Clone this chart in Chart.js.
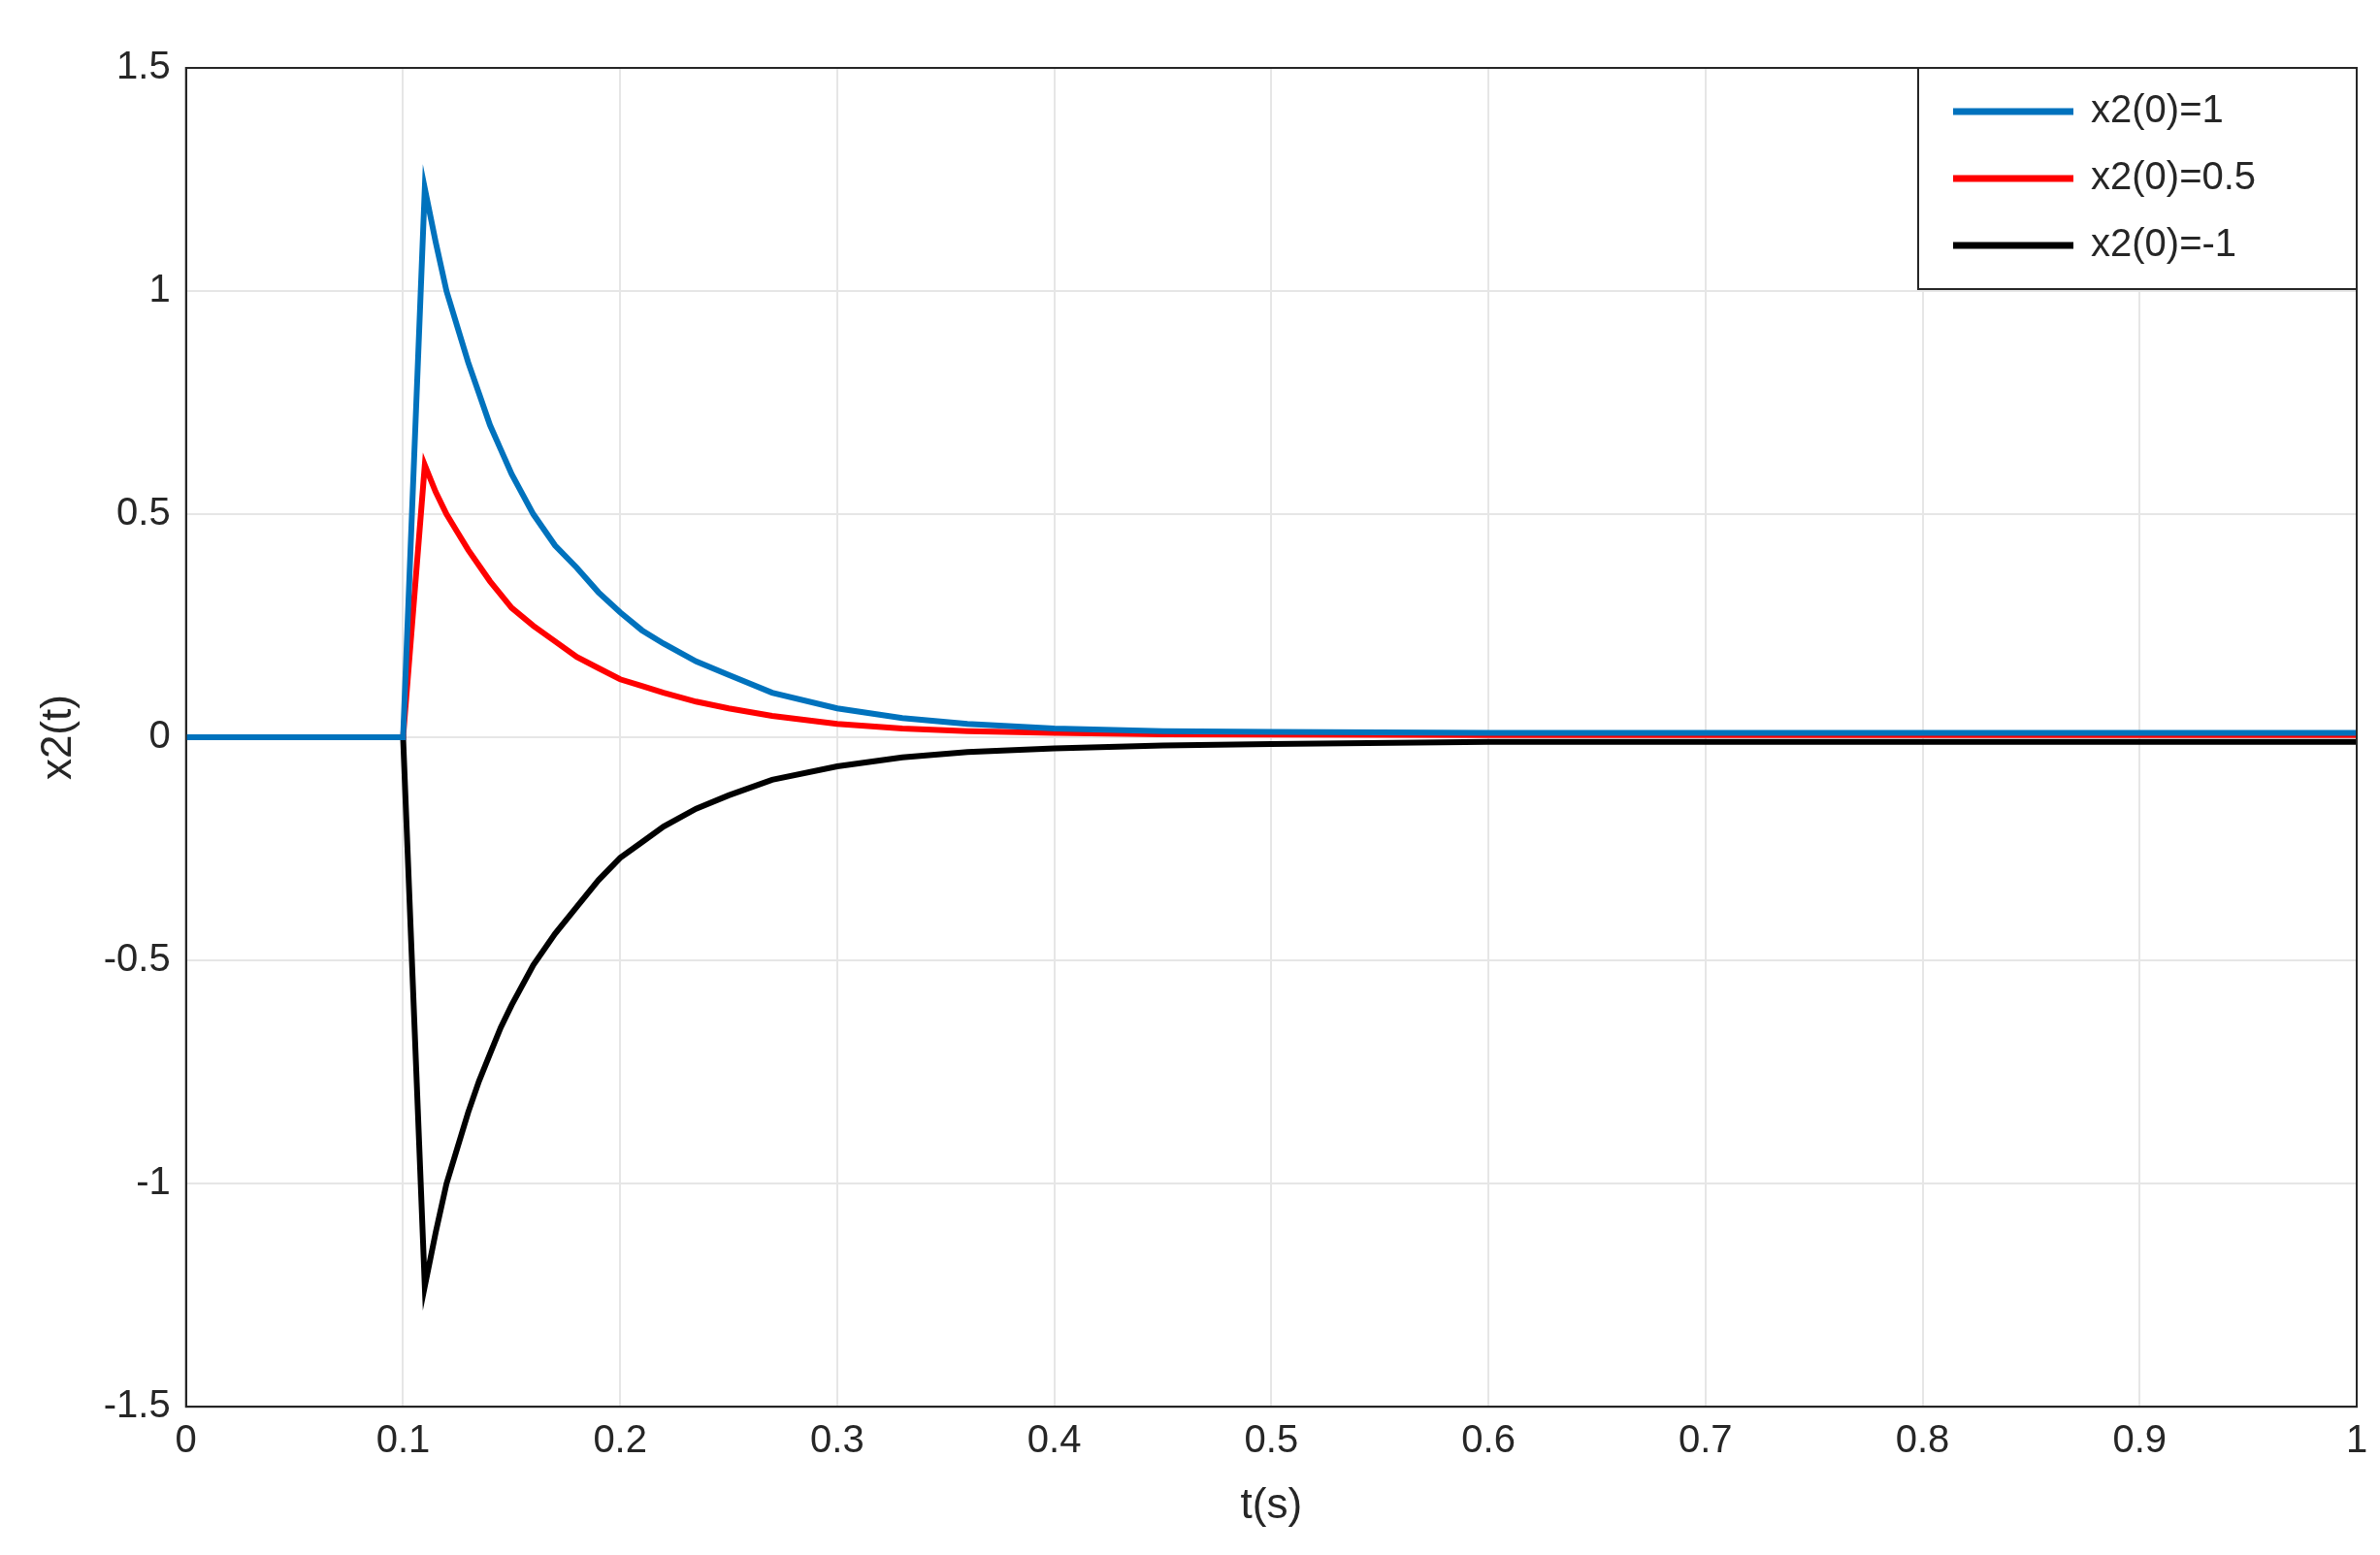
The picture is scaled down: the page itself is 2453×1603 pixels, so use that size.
<!DOCTYPE html>
<html><head><meta charset="utf-8">
<script src="https://cdn.jsdelivr.net/npm/chart.js@4.4.1/dist/chart.umd.min.js"></script>
<style>html,body{margin:0;padding:0;background:#fff}#w{width:2453px;height:1603px}</style>
</head><body><div id="w"><canvas id="c"></canvas></div>
<script>
const tVals = [0,0.1,0.11,0.115,0.12,0.125,0.13,0.135,0.14,0.145,0.15,0.16,0.17,0.18,0.19,0.2,0.21,0.22,0.235,0.25,0.27,0.3,0.33,0.36,0.4,0.45,0.5,0.6,0.8,1.0];
const blueVals = [0,0,1.23,1.11,1.0,0.92,0.84,0.77,0.70,0.645,0.59,0.50,0.43,0.38,0.325,0.28,0.24,0.21,0.17,0.14,0.10,0.065,0.043,0.03,0.02,0.014,0.012,0.01,0.01,0.01];
const redVals = [0,0,0.61,0.55,0.50,0.46,0.42,0.385,0.35,0.32,0.29,0.25,0.215,0.18,0.155,0.13,0.115,0.10,0.08,0.065,0.048,0.03,0.02,0.014,0.01,0.007,0.006,0.005,0.005,0.005];
const blackVals = [0,0,-1.23,-1.11,-1.0,-0.92,-0.84,-0.77,-0.71,-0.65,-0.60,-0.51,-0.44,-0.38,-0.32,-0.27,-0.235,-0.20,-0.16,-0.13,-0.095,-0.065,-0.045,-0.033,-0.025,-0.018,-0.015,-0.01,-0.01,-0.01];
const seriesNames = ['x2(0)=1','x2(0)=0.5','x2(0)=-1'];
const pts = v => tVals.map((t,i)=>({x:t,y:v[i]}));
const FAM = 'Liberation Sans, Arial, sans-serif';
const font = {family:FAM, size:40};
const frame = {id:'frame', afterDraw(ch){const a=ch.chartArea,c=ch.ctx;c.save();c.strokeStyle='#262626';c.lineWidth=2;c.strokeRect(a.left,a.top,a.right-a.left,a.bottom-a.top);
 const L=a.right-452, T=a.top, W=452, H=228;
 c.fillStyle='#fff';c.fillRect(L,T,W,H);c.strokeStyle='#262626';c.lineWidth=2;c.strokeRect(L,T,W,H);
 c.font='40px '+FAM;c.textBaseline='middle';
 ch.data.datasets.forEach((d,i)=>{const y=T+45+i*69;c.strokeStyle=d.borderColor;c.lineWidth=7;c.beginPath();c.moveTo(L+36,y);c.lineTo(L+160,y);c.stroke();
  c.fillStyle='#262626';c.fillText(d.label,L+178,y);});
 c.restore();}};
new Chart(document.getElementById('c'),{type:'line',
 data:{datasets:[
  {label:seriesNames[0],data:pts(blueVals),borderColor:'#0072BD',borderWidth:6,pointRadius:0,tension:0},
  {label:seriesNames[1],data:pts(redVals),borderColor:'#FF0000',borderWidth:6,pointRadius:0,tension:0},
  {label:seriesNames[2],data:pts(blackVals),borderColor:'#000000',borderWidth:6,pointRadius:0,tension:0}]},
 options:{responsive:true,maintainAspectRatio:false,animation:false,
  layout:{padding:{left:30,right:24,top:70,bottom:20}},
  plugins:{legend:{display:false},tooltip:{enabled:false}},
  scales:{
   x:{type:'linear',min:0,max:1,ticks:{stepSize:0.1,font,color:'#262626',padding:12,callback:v=>String(+v.toFixed(1))},grid:{color:'#e6e6e6',lineWidth:2,tickLength:0},border:{color:'#262626',width:2},
      title:{display:true,text:'t(s)',font:{family:FAM,size:44},color:'#262626'}},
   y:{min:-1.5,max:1.5,ticks:{stepSize:0.5,font,color:'#262626',padding:16,callback:v=>String(+v.toFixed(1))},grid:{color:'#e6e6e6',lineWidth:2,tickLength:0},border:{color:'#262626',width:2},
      title:{display:true,text:'x2(t)',font:{family:FAM,size:44},color:'#262626'}}}},
 plugins:[frame]});
</script></body></html>
